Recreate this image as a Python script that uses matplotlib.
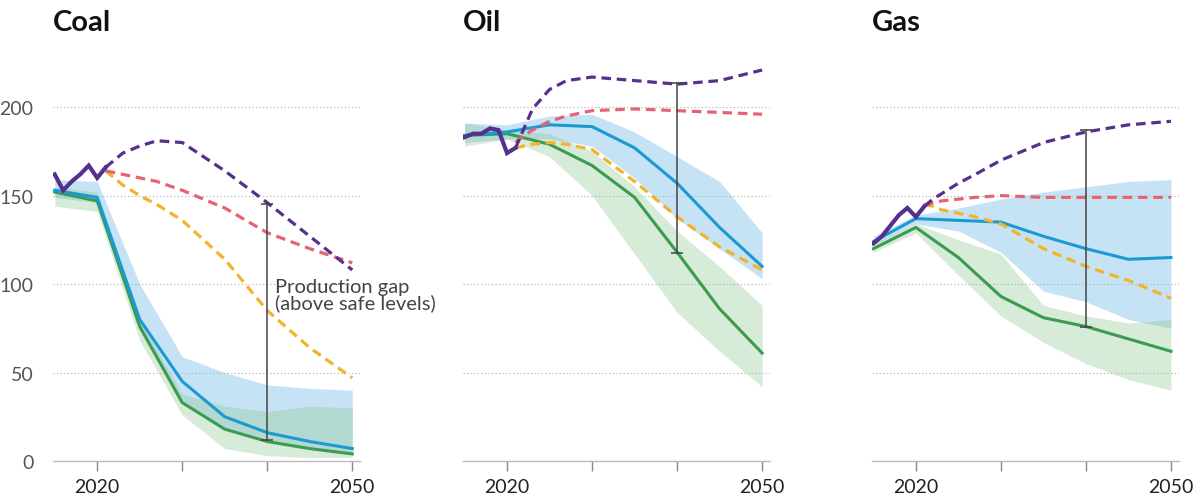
import numpy as np
import matplotlib.pyplot as plt

plt.rcParams['font.family'] = ['Lato', 'DejaVu Sans']

fuels = ['Coal', 'Oil', 'Gas']

hist_years = [2015, 2016, 2017, 2018, 2019, 2020, 2021]
proj_years = [2021, 2022, 2023, 2025, 2027, 2030, 2035, 2040, 2045, 2050]
path_years = [2015, 2020, 2025, 2030, 2035, 2040, 2045, 2050]

# historical production
hist = {
    'Coal': [162, 153, 158, 162, 167, 160, 166],
    'Oil': [183, 185, 185, 188, 187, 174, 177],
    'Gas': [123, 127, 133, 139, 143, 138, 144],
}
# government plans / projections (dashed)
plans = {
    'Coal': [166, 170, 174, 178, 181, 180, 164, 146, 127, 108],
    'Oil': [177, 188, 199, 210, 215, 217, 215, 213, 215, 221],
    'Gas': [144, 148, 151, 157, 162, 170, 180, 186, 190, 192],
}
stated = {
    'Coal': [164, 163, 162, 160, 158, 153, 143, 129, 120, 112],
    'Oil': [180, 184, 187, 192, 195, 198, 199, 198, 197, 196],
    'Gas': [144, 146, 147, 148, 149, 150, 149, 149, 149, 149],
}
pledges = {
    'Coal': [164, 160, 156, 150, 145, 136, 114, 85, 64, 47],
    'Oil': [177, 178, 179, 180, 179, 176, 158, 138, 121, 108],
    'Gas': [145, 144, 142, 140, 138, 134, 120, 110, 102, 92],
}
# 2C and 1.5C pathways (median + range)
p2c = {
    'Coal': [153, 149, 80, 45, 25, 16, 11, 7],
    'Oil': [184, 186, 190, 189, 177, 157, 132, 110],
    'Gas': [124, 137, 136, 135, 127, 120, 114, 115],
}
p2c_hi = {
    'Coal': [159, 158, 100, 59, 50, 43, 41, 40],
    'Oil': [191, 190, 195, 196, 186, 172, 158, 129],
    'Gas': [127, 139, 143, 148, 152, 155, 158, 159],
}
p2c_lo = {
    'Coal': [149, 146, 76, 34, 19, 11, 7, 4],
    'Oil': [180, 182, 182, 178, 160, 137, 120, 103],
    'Gas': [122, 134, 130, 118, 96, 90, 80, 75],
}
p15 = {
    'Coal': [152, 147, 76, 33, 18, 11, 7, 4],
    'Oil': [184, 185, 179, 167, 149, 118, 86, 61],
    'Gas': [120, 132, 115, 93, 81, 76, 69, 62],
}
p15_hi = {
    'Coal': [155, 152, 80, 38, 31, 28, 31, 30],
    'Oil': [191, 187, 185, 175, 155, 130, 110, 88],
    'Gas': [123, 134, 125, 117, 88, 82, 78, 80],
}
p15_lo = {
    'Coal': [144, 141, 68, 26, 7, 3, 2, 2],
    'Oil': [178, 182, 172, 150, 117, 84, 62, 42],
    'Gas': [118, 129, 105, 82, 67, 55, 46, 40],
}
gap_year = 2040
gap_top = {'Coal': 145, 'Oil': 213.5, 'Gas': 187}
gap_bottom = {'Coal': 12, 'Oil': 117.5, 'Gas': 76}

purple = '#55308d'
red = '#e66373'
yellow = '#f2b42a'
blue = '#1b9ad2'
green = '#3b9b50'

fig = plt.figure(figsize=(11.99, 5.02), dpi=100)
lefts = [0.0442, 0.386, 0.727]
dash = (3.0, 1.8)

for i, fuel in enumerate(fuels):
    ax = fig.add_axes([lefts[i], 0.0797, 0.256, 0.793])

    ax.fill_between(path_years, p2c_lo[fuel], p2c_hi[fuel], color='#82c0ea', alpha=0.45, lw=0, zorder=1)
    ax.fill_between(path_years, p15_lo[fuel], p15_hi[fuel], color='#8fc893', alpha=0.35, lw=0, zorder=1)

    ax.plot(path_years, p15[fuel], color=green, lw=2.2, zorder=3)
    ax.plot(path_years, p2c[fuel], color=blue, lw=2.2, zorder=3)

    ax.plot(proj_years, pledges[fuel], color=yellow, lw=2.3, dashes=dash, zorder=4)
    ax.plot(proj_years, stated[fuel], color=red, lw=2.3, dashes=dash, zorder=4)
    ax.plot(proj_years, plans[fuel], color=purple, lw=2.3, dashes=dash, zorder=5)
    ax.plot(hist_years, hist[fuel], color=purple, lw=3.0, zorder=6, solid_joinstyle='miter')

    # production gap marker
    ax.plot([gap_year, gap_year], [gap_bottom[fuel], gap_top[fuel]], color='#444444', lw=1.1, zorder=7)
    ax.plot([gap_year, gap_year], [gap_bottom[fuel], gap_top[fuel]], ls='none', marker='_',
            ms=8, mew=1.1, color='#444444', zorder=7)

    ax.set_xlim(2014.8, 2050.9)
    ax.set_ylim(0, 225)
    for v in [50, 100, 150, 200]:
        ax.axhline(v, color='#aaaaaa', lw=0.8, ls=(0, (1, 2.2)), zorder=0)

    for s in ['top', 'right', 'left']:
        ax.spines[s].set_visible(False)
    ax.spines['bottom'].set_color('#bbbbbb')
    ax.spines['bottom'].set_linewidth(1.0)

    ax.set_xticks([2020, 2030, 2040, 2050])
    ax.set_xticklabels(['2020', '', '', '2050'])
    ax.tick_params(axis='x', length=7, width=1, color='#888888', labelsize=14,
                   labelcolor='#222222', pad=5)
    if i == 0:
        ax.set_yticks([0, 50, 100, 150, 200])
        ax.tick_params(axis='y', length=0, labelsize=14, labelcolor='#555555', pad=14)
    else:
        ax.set_yticks([])

    fig.text(lefts[i], 0.955, fuel, fontsize=21, fontweight='bold', color='#111111',
             ha='left', va='center')

    if fuel == 'Coal':
        ax.text(2040.9, 94, 'Production gap\n(above safe levels)', fontsize=14.5,
                color='#444444', ha='left', va='center',
                linespacing=0.85, clip_on=False, zorder=8)

fig.savefig('out.png', dpi=100)
